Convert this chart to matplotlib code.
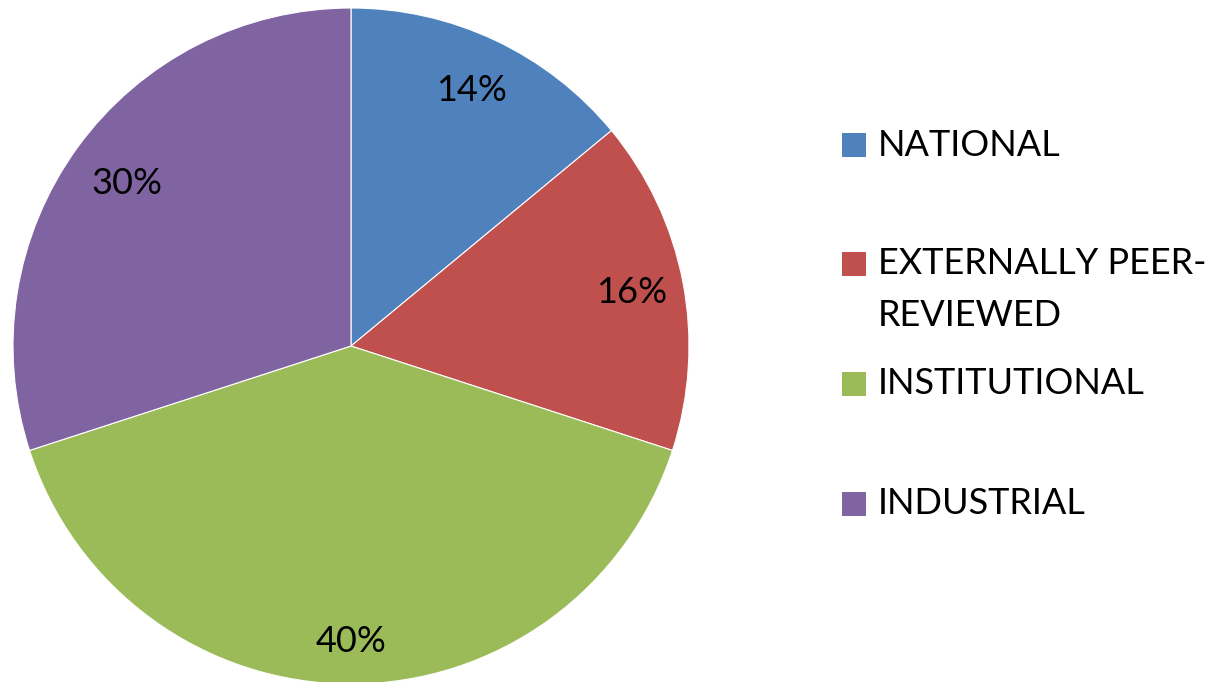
import matplotlib
matplotlib.use("Agg")
import numpy as np
import matplotlib.pyplot as plt
from matplotlib.patches import Rectangle

categories = ["NATIONAL", "EXTERNALLY PEER-\nREVIEWED", "INSTITUTIONAL", "INDUSTRIAL"]
values = [14, 16, 40, 30]
colors = ["#4F81BD", "#C0504D", "#9BBB59", "#8064A2"]

W, H = 1217, 682
fig = plt.figure(figsize=(W / 100, H / 100), dpi=100)
plt.rcParams['font.family'] = ['Lato', 'DejaVu Sans']
FS = 26

cx, cy, R = 351, 346, 338
ax = fig.add_axes([(cx - R) / W, (H - cy - R) / H, 2 * R / W, 2 * R / H])
wedges, texts, autotexts = ax.pie(values, colors=colors, startangle=90, counterclock=False,
                                  autopct='%1.0f%%', pctdistance=0.84, radius=1,
                                  wedgeprops=dict(edgecolor='white', linewidth=0.8),
                                  textprops=dict(fontsize=FS, color='black'))
# fine-tune label radial distances
label_dist = [0.835, 0.845, 0.875, 0.82]
for w, t, d in zip(wedges, autotexts, label_dist):
    ang = np.deg2rad((w.theta1 + w.theta2) / 2)
    t.set_position((d * np.cos(ang), d * np.sin(ang)))
ax.set_xlim(-1, 1)
ax.set_ylim(-1, 1)
ax.set_aspect('auto')
ax.axis('off')

# legend drawn manually
sq = 24
sq_x = 842
tops = [133, 252, 372, 492]
for lab, col, top in zip(categories, colors, tops):
    fig.patches.append(Rectangle((sq_x / W, (H - top - sq) / H), sq / W, sq / H,
                                 transform=fig.transFigure, facecolor=col, edgecolor='none'))
    fig.text(878 / W, (H - (top + sq / 2)) / H, lab.split("\n")[0], fontsize=FS,
             va='center', ha='left')
    if "\n" in lab:
        fig.text(878 / W, (H - (top + sq / 2 + 52)) / H, lab.split("\n")[1], fontsize=FS,
                 va='center', ha='left')

fig.savefig("out.png", dpi=100)
